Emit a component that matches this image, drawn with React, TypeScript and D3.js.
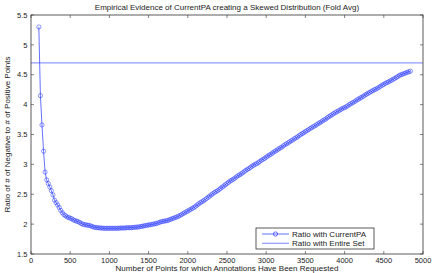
import React from "react";
import * as d3 from "d3";

const xStart = 100;
const xStep = 20;
const ratioCurrentPA: number[] = [
  5.30, 4.15, 3.66, 3.22, 2.87,
  2.74, 2.68, 2.62, 2.56, 2.49,
  2.40, 2.36, 2.32, 2.28, 2.23,
  2.19, 2.16, 2.14, 2.12, 2.11,
  2.10, 2.09, 2.07, 2.06, 2.05,
  2.04, 2.03, 2.01, 2.00, 1.99,
  1.99, 1.98, 1.98, 1.97, 1.96,
  1.95, 1.945, 1.94, 1.94, 1.935,
  1.935, 1.93, 1.93, 1.93, 1.93,
  1.93, 1.93, 1.93, 1.93, 1.93,
  1.93, 1.93, 1.935, 1.935, 1.935,
  1.935, 1.94, 1.94, 1.94, 1.94,
  1.945, 1.945, 1.95, 1.95, 1.955,
  1.96, 1.965, 1.97, 1.975, 1.98,
  1.985, 1.99, 1.995, 2.00, 2.005,
  2.01, 2.02, 2.03, 2.04, 2.045,
  2.05, 2.055, 2.06, 2.07, 2.08,
  2.09, 2.10, 2.11, 2.12, 2.13,
  2.145, 2.16, 2.175, 2.19, 2.205,
  2.22, 2.235, 2.25, 2.265, 2.28,
  2.30, 2.32, 2.34, 2.36, 2.375,
  2.39, 2.41, 2.43, 2.45, 2.47,
  2.49, 2.51, 2.53, 2.545, 2.56,
  2.58, 2.60, 2.62, 2.64, 2.66,
  2.68, 2.70, 2.72, 2.735, 2.75,
  2.77, 2.79, 2.81, 2.825, 2.84,
  2.86, 2.88, 2.90, 2.915, 2.93,
  2.95, 2.97, 2.985, 3.00, 3.015,
  3.03, 3.05, 3.07, 3.085, 3.10,
  3.12, 3.14, 3.155, 3.17, 3.19,
  3.21, 3.225, 3.24, 3.26, 3.275,
  3.29, 3.31, 3.33, 3.345, 3.36,
  3.38, 3.395, 3.41, 3.43, 3.445,
  3.46, 3.48, 3.50, 3.515, 3.53,
  3.55, 3.565, 3.58, 3.60, 3.615,
  3.63, 3.645, 3.66, 3.68, 3.695,
  3.71, 3.73, 3.745, 3.76, 3.78,
  3.80, 3.815, 3.83, 3.85, 3.865,
  3.88, 3.895, 3.91, 3.925, 3.94,
  3.95, 3.965, 3.98, 4.00, 4.015,
  4.03, 4.045, 4.06, 4.08, 4.095,
  4.11, 4.125, 4.14, 4.16, 4.175,
  4.19, 4.205, 4.22, 4.235, 4.25,
  4.26, 4.275, 4.29, 4.31, 4.325,
  4.34, 4.355, 4.37, 4.38, 4.395,
  4.41, 4.425, 4.44, 4.455, 4.47,
  4.49, 4.50, 4.51, 4.52, 4.53,
  4.54, 4.55, 4.56,
];
const ratioEntireSet = 4.70;
const xTicks = [0, 500, 1000, 1500, 2000, 2500, 3000, 3500, 4000, 4500, 5000];
const yTicks = [1.5, 2, 2.5, 3, 3.5, 4, 4.5, 5, 5.5];
const titleText = "Empirical Evidence of CurrentPA creating a Skewed Distribution (Fold Avg)";
const xLabel = "Number of Points for which Annotations Have Been Requested";
const yLabel = "Ratio of # of Negative to # of Positive Points";
const legendLabels = ["Ratio with CurrentPA", "Ratio with Entire Set"];

const W = 436, H = 273;
const L = 31, R = 423, T = 15, B = 254;
const FONT = "'Liberation Sans', Arial, sans-serif";
const BLUE = "#2233ff";
const AX = "#333";

export default function App() {
  const x = d3.scaleLinear().domain([0, 5000]).range([L, R]);
  const y = d3.scaleLinear().domain([1.5, 5.5]).range([B, T]);
  const pts = ratioCurrentPA.map((v, i) => [xStart + i * xStep, v] as [number, number]);
  const line = d3.line<[number, number]>().x(d => x(d[0])).y(d => y(d[1]));
  const tl = 3;
  const lx0 = 256, lx1 = 374, ly0 = 228, ly1 = 249;
  return (
    <div style={{ position: "absolute", left: 0, top: 0 }}>
      <svg width={W} height={H} style={{ display: "block", background: "#fff" }} fontFamily={FONT}>
        <rect x={0} y={0} width={W} height={H} fill="#fff" />
        <text x={(L + R) / 2} y={10} textAnchor="middle" fontSize={8} fill="#222">{titleText}</text>
        {/* horizontal reference line */}
        <line x1={L} x2={R} y1={y(ratioEntireSet)} y2={y(ratioEntireSet)} stroke="#8f9bff" strokeWidth={1.2} />
        {/* series */}
        <path d={line(pts) || ""} fill="none" stroke={BLUE} strokeWidth={0.7} />
        {pts.map((p, i) => (
          <circle key={i} cx={x(p[0])} cy={y(p[1])} r={2.1} fill="none" stroke={BLUE} strokeWidth={0.6} strokeOpacity={0.85} />
        ))}
        {/* axes box */}
        <rect x={L} y={T} width={R - L} height={B - T} fill="none" stroke={AX} strokeWidth={0.8} />
        {xTicks.map(t => (
          <g key={"x" + t}>
            <line x1={x(t)} x2={x(t)} y1={B} y2={B - tl} stroke={AX} strokeWidth={0.6} />
            <line x1={x(t)} x2={x(t)} y1={T} y2={T + tl} stroke={AX} strokeWidth={0.6} />
            <text x={x(t)} y={263} textAnchor="middle" fontSize={7.5} fill="#222">{t}</text>
          </g>
        ))}
        {yTicks.map(t => (
          <g key={"y" + t}>
            <line x1={L} x2={L + tl} y1={y(t)} y2={y(t)} stroke={AX} strokeWidth={0.6} />
            <line x1={R} x2={R - tl} y1={y(t)} y2={y(t)} stroke={AX} strokeWidth={0.6} />
            <text x={27.5} y={y(t) + 2.7} textAnchor="end" fontSize={7.5} fill="#222">{String(t)}</text>
          </g>
        ))}
        <text x={(L + R) / 2} y={270.5} textAnchor="middle" fontSize={8} fill="#222">{xLabel}</text>
        <text transform={`translate(9.5,${(T + B) / 2}) rotate(-90)`} textAnchor="middle" fontSize={8} fill="#222">{yLabel}</text>
        {/* legend */}
        <rect x={lx0} y={ly0} width={lx1 - lx0} height={ly1 - ly0} fill="#fff" stroke={AX} strokeWidth={0.8} />
        <line x1={262} x2={289} y1={234} y2={234} stroke={BLUE} strokeWidth={0.7} />
        <circle cx={275.5} cy={234} r={2.1} fill="none" stroke={BLUE} strokeWidth={0.7} />
        <line x1={262} x2={289} y1={243.3} y2={243.3} stroke="#8f9bff" strokeWidth={1.2} />
        <text x={292} y={236.8} fontSize={8} fill="#222">{legendLabels[0]}</text>
        <text x={292} y={246.1} fontSize={8} fill="#222">{legendLabels[1]}</text>
      </svg>
    </div>
  );
}
